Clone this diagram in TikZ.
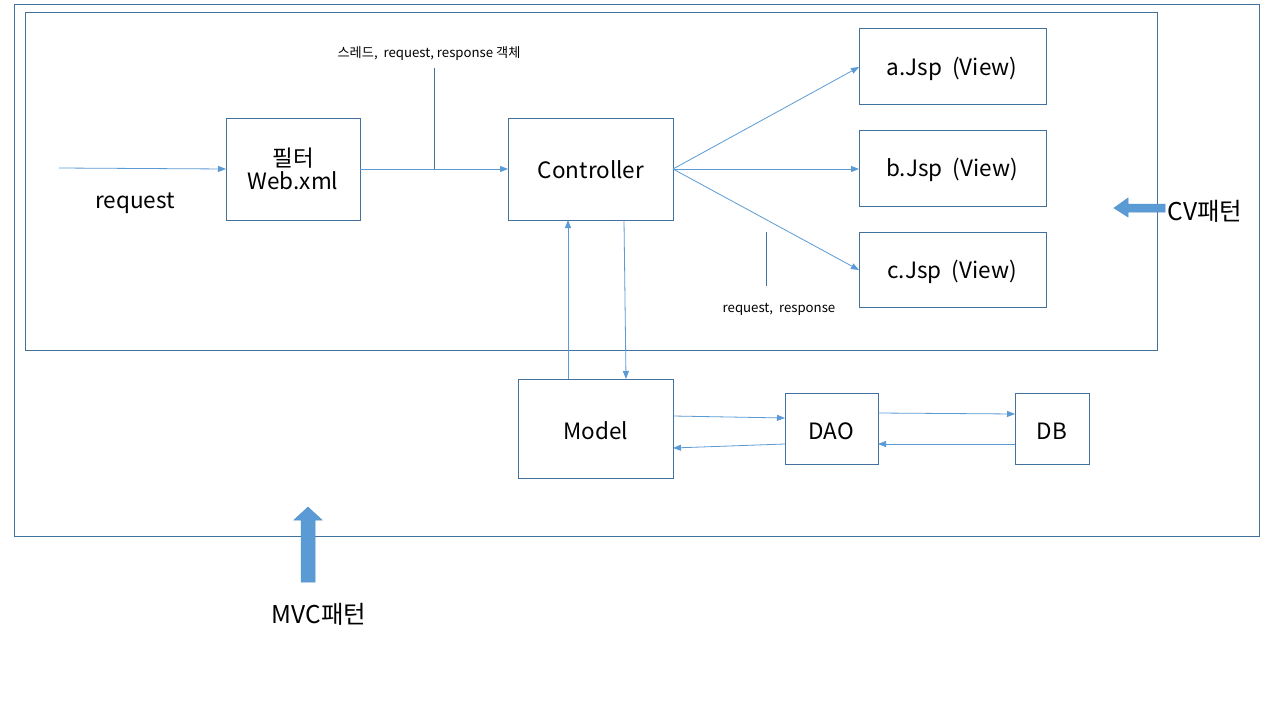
\documentclass[tikz,border=0pt]{standalone}
\usepackage{fontspec}
\setmainfont{Noto Sans CJK KR}
\usetikzlibrary{arrows.meta,shapes.arrows}
\definecolor{edge}{HTML}{41719C}
\definecolor{arr}{HTML}{5B9BD5}
\begin{document}
\begin{tikzpicture}[x=1pt,y=-1pt,
  box/.style={draw=edge,line width=0.8pt,inner sep=0pt},
  lbl/.style={font=\fontsize{22.5}{26}\selectfont,inner sep=0pt},
  big/.style={font=\fontsize{24.5}{28}\selectfont,inner sep=0pt},
  small/.style={font=\fontsize{13.2}{15}\selectfont,inner sep=0pt},
  conn/.style={draw=arr,line width=0.8pt,-{Triangle[length=8pt,width=6pt]}},
  plain/.style={draw=edge,line width=0.8pt}]
\useasboundingbox (0,0) rectangle (1280,720);
\fill[white] (0,0) rectangle (1280,720);
% containers
\draw[box] (14,4) rectangle (1259,536);
\draw[box] (25,12) rectangle (1157,350);
% boxes
\draw[box] (226,118) rectangle (360,220);
\node[lbl,align=center] (filter) at (293,169) {필터\\[-3pt]Web.xml};
\coordinate (filterW) at (226,169);
\coordinate (filterE) at (360,169);
\draw[box] (508,118) rectangle (673,220);
\node[lbl] (ctrl) at (591,170) {Controller};
\coordinate (ctrlW) at (508,169);
\coordinate (ctrlE) at (673,169);
\draw[box] (859,28) rectangle (1046,104);
\node[lbl] (a) at (952,69) {a.Jsp\ \ (View)};
\draw[box] (859,130) rectangle (1046,206);
\node[lbl] (b) at (952,170) {b.Jsp\ \ (View)};
\draw[box] (859,232) rectangle (1046,307);
\node[lbl] (c) at (952,272) {c.Jsp\ \ (View)};
\draw[box] (518,379) rectangle (673,478);
\node[lbl] (model) at (596,431) {Model};
\draw[box] (785,393) rectangle (878,464);
\node[lbl] (dao) at (831,431) {DAO};
\draw[box] (1015,393) rectangle (1089,464);
\node[lbl] (db) at (1052,431) {DB};
% request
\coordinate (reqS) at (59,168);
\draw[conn] (reqS) -- (filterW);
\node[lbl] (reqL) at (135,203) {request};
% filter -> controller
\draw[conn] (filterE) -- (ctrlW);
\coordinate (t1) at (434,68);
\coordinate (t2) at (434,169);
\draw[plain] (t1) -- (t2);
\node[small] (lab1) at (429,54) {스레드,\ \ request,\ response 객체};
% controller -> views
\draw[conn] (ctrlE) -- (859,67);
\draw[conn] (ctrlE) -- (859,169);
\draw[conn] (ctrlE) -- (859,270);
\coordinate (t3) at (766,232);
\coordinate (t4) at (766,286);
\draw[plain] (t3) -- (t4);
\node[small] (lab2) at (779,309) {request,\ \ response};
% controller <-> model
\draw[conn] (568,379) -- (568,220);
\draw[conn] (624,220) -- (626,379);
% model <-> dao <-> db
\draw[conn] (673,416) -- (785,418);
\draw[conn] (785,444) -- (673,448);
\draw[conn] (878,413) -- (1015,414);
\draw[conn] (1015,444) -- (878,444);
% CV block arrow
\filldraw[fill=arr,draw=arr!80!edge,line width=0.5pt]
  (1165,204) -- (1128,204) -- (1128,198) -- (1114,208) -- (1128,217) -- (1128,212) -- (1165,212) -- cycle;
\node[big] (cv) at (1205,211) {CV패턴};
% MVC block arrow
\filldraw[fill=arr,draw=arr!80!edge,line width=0.5pt]
  (301,582) -- (301,520) -- (294,520) -- (308,507) -- (322,520) -- (315,520) -- (315,582) -- cycle;
\node[big] (mvc) at (319,614) {MVC패턴};
\end{tikzpicture}
\end{document}
